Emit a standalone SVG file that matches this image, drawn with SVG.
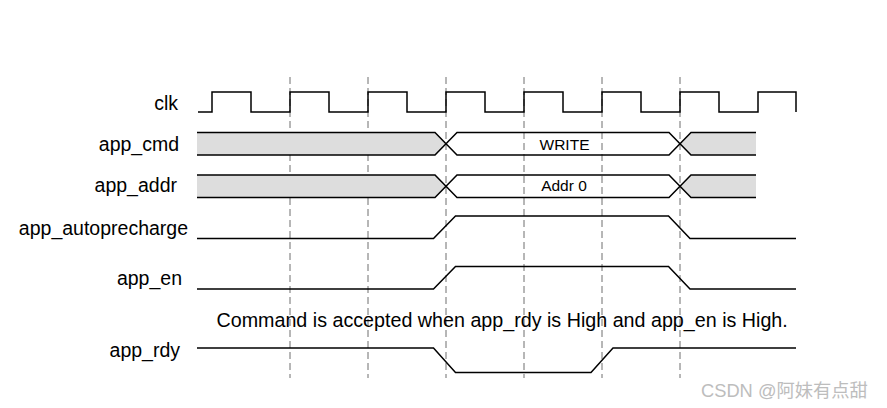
<svg xmlns="http://www.w3.org/2000/svg" width="887" height="408" viewBox="0 0 887 408">
<style>
.lbl{font-family:"Liberation Sans",Arial,sans-serif;font-size:19.5px;fill:#000;text-anchor:end}
.bus{font-family:"Liberation Sans",Arial,sans-serif;font-size:15.5px;fill:#000;text-anchor:middle}
.note{font-family:"Liberation Sans",Arial,sans-serif;font-size:19.7px;fill:#000}
.wm{font-family:"Liberation Sans","Noto Sans CJK SC",sans-serif;font-size:18.3px;fill:#bdbdbd}
.w{fill:none;stroke:#000;stroke-width:1.5;stroke-linejoin:miter}
.g{fill:#dddddd;stroke:none}
.dash{stroke:#6e6e6e;stroke-width:1;stroke-dasharray:7 4;fill:none}
</style>
<rect width="887" height="408" fill="#fff"/>
<g id="grid">
<path class="dash" d="M290,77V378M368,77V378M446,77V378M524,77V378M602,77V378M680,77V378"/>
</g>
<g id="clk">
<text class="lbl" x="178" y="109.5">clk</text>
<path class="w" d="M198,112H212V92H251V112H290V92H329V112H368V92H407V112H446V92H485V112H524V92H563V112H602V92H641V112H680V92H719V112H758V92H796V112"/>
</g>
<g id="app_cmd">
<text class="lbl" x="179" y="150.5">app_cmd</text>
<path class="g" d="M197,132.5H435L446,143.75L435,155H197Z"/>
<path class="g" d="M756,132.5H691L680,143.75L691,155H756Z"/>
<path class="w" d="M197,132.5H435L457,155H669L691,132.5H756M197,155H435L457,132.5H669L691,155H756"/>
<text class="bus" x="564.5" y="150">WRITE</text>
</g>
<g id="app_addr">
<text class="lbl" x="177" y="191.5">app_addr</text>
<path class="g" d="M197,175H435L446,186.25L435,197.5H197Z"/>
<path class="g" d="M756,175H691L680,186.25L691,197.5H756Z"/>
<path class="w" d="M197,175H435L457,197.5H669L691,175H756M197,197.5H435L457,175H669L691,197.5H756"/>
<text class="bus" x="564" y="190.5">Addr 0</text>
</g>
<g id="app_autoprecharge">
<text class="lbl" x="188" y="235">app_autoprecharge</text>
<path class="w" d="M197,238.5H433.5L455.5,216H668.5L690,238.5H796"/>
</g>
<g id="app_en">
<text class="lbl" x="182" y="285">app_en</text>
<path class="w" d="M197,289H433.5L455.5,266.5H668.5L690,289H796"/>
</g>
<text class="note" x="216.5" y="326.7">Command is accepted when app_rdy is High and app_en is High.</text>
<g id="app_rdy">
<text class="lbl" x="180" y="356.5">app_rdy</text>
<path class="w" d="M197,348H433.5L455.5,372.5H591L613,348H796"/>
</g>
<text class="wm" x="701" y="396.5">CSDN @阿妹有点甜</text>
</svg>
